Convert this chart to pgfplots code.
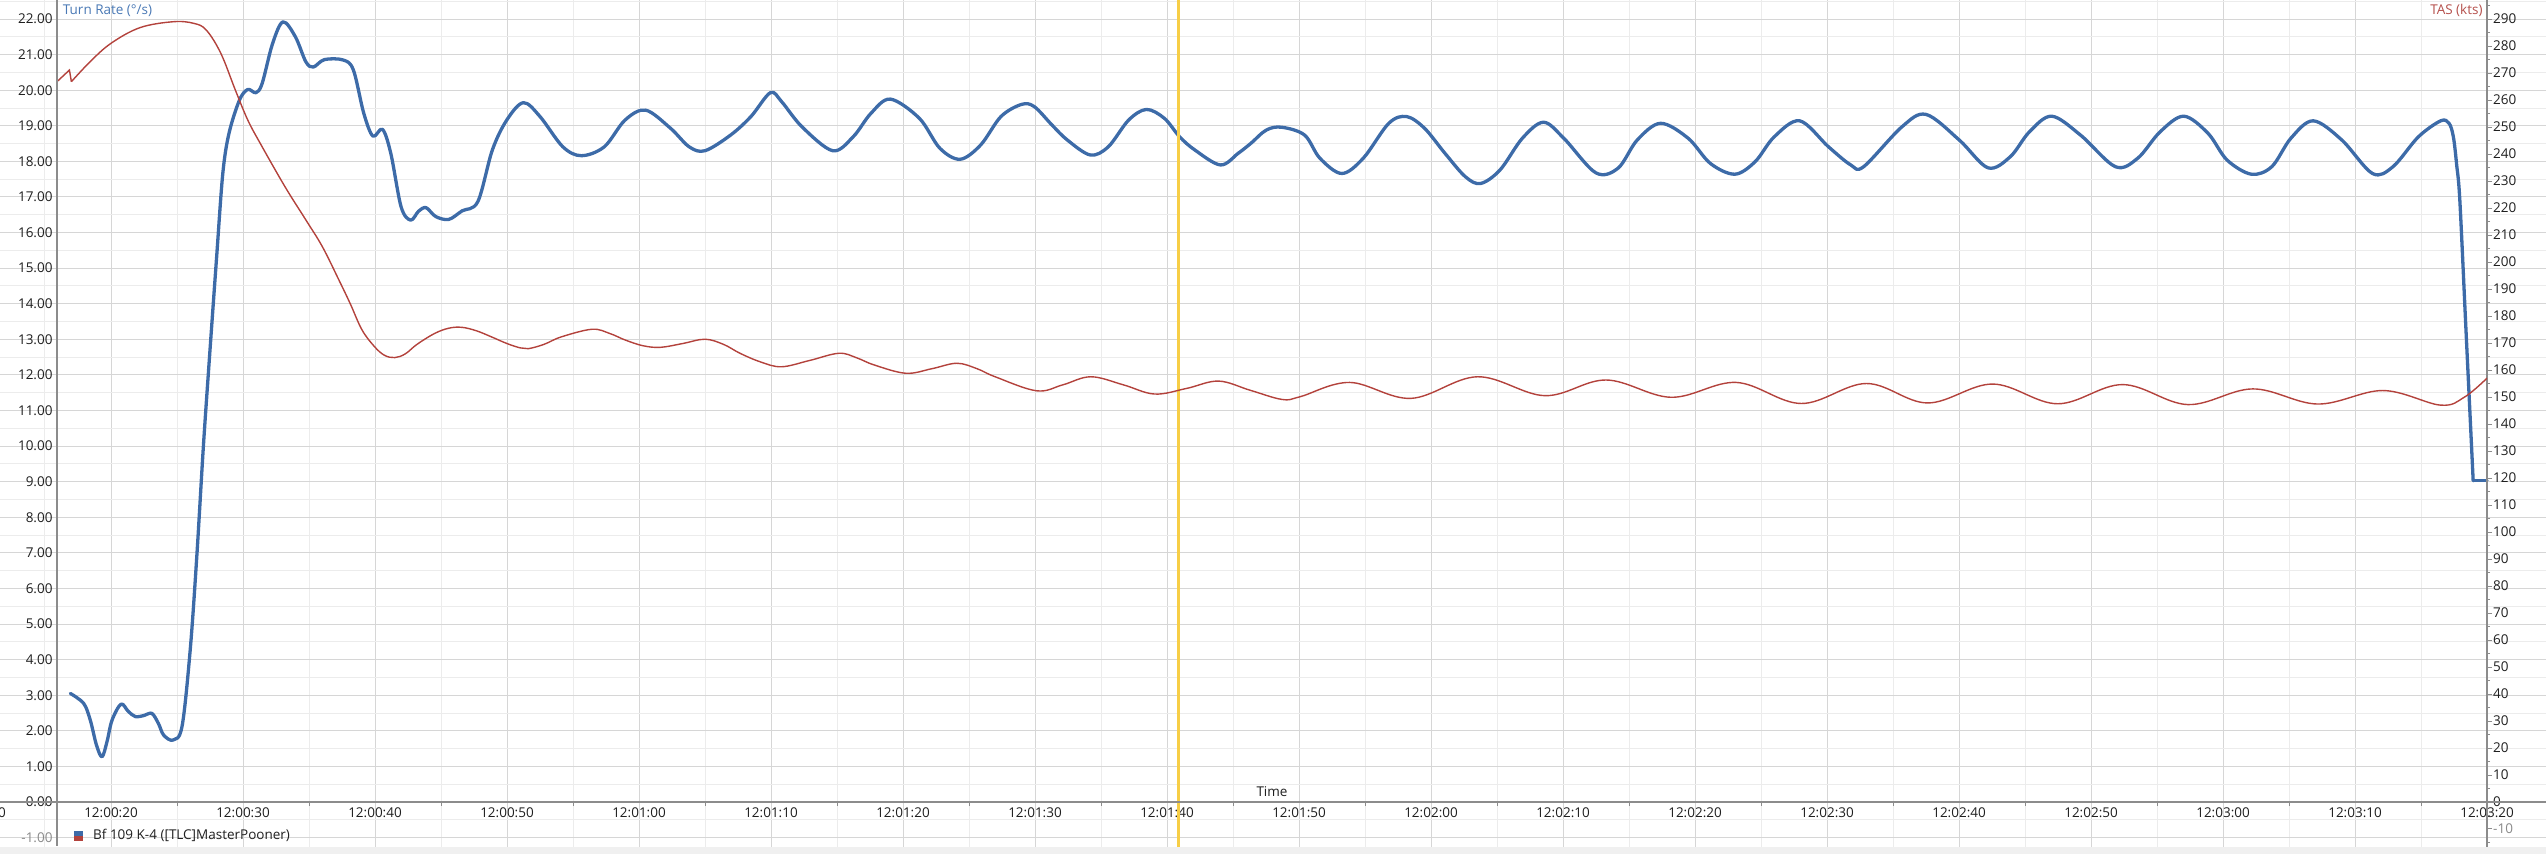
\documentclass[border=0pt]{standalone}
\usepackage{pgfplots}
\pgfplotsset{compat=1.18}
\usepackage{fontspec}
\setmainfont{Open Sans}
\newcommand{\f}{\fontsize{13.5pt}{16pt}\selectfont}
\definecolor{cblue}{HTML}{3D6BA8}
\definecolor{cred}{HTML}{B3423C}
\definecolor{cyel}{HTML}{F7CE46}
\definecolor{gmaj}{HTML}{D6D6D6}
\definecolor{gmin}{HTML}{ECECEC}
\definecolor{axg}{HTML}{8C8C8C}
\definecolor{tblue}{HTML}{4A79B5}
\definecolor{tred}{HTML}{B5504C}
\definecolor{txt}{HTML}{1F1F1F}
\definecolor{band}{HTML}{F0F0F0}
\definecolor{lgray}{HTML}{8A8A8A}

\begin{document}
\begin{tikzpicture}
% ---------------- left axis: Turn Rate ----------------
\begin{axis}[
  at={(0pt,0pt)}, anchor=south west,
  scale only axis, width=2546pt, height=854pt,
  xmin=11.591, xmax=204.47, ymin=-1.461, ymax=22.535,
  axis line style={draw=none},
  major tick length=0pt, minor tick length=0pt,
  tick pos=left,
  xtick={20,30,...,200},
  minor xtick={15,25,...,205},
  xticklabels={12:00:20,12:00:30,12:00:40,12:00:50,12:01:00,12:01:10,12:01:20,12:01:30,12:01:40,12:01:50,12:02:00,12:02:10,12:02:20,12:02:30,12:02:40,12:02:50,12:03:00,12:03:10,12:03:20},
  xticklabel style={font=\f, text=txt, anchor=north, inner sep=0pt, yshift=46pt},
  ytick={-1,0,...,22},
  minor ytick={-0.5,0.5,...,22.5},
  yticklabels={{\textcolor{lgray}{-1.00}},0.00,1.00,2.00,3.00,4.00,5.00,6.00,7.00,8.00,9.00,10.00,11.00,12.00,13.00,14.00,15.00,16.00,17.00,18.00,19.00,20.00,21.00,22.00},
  yticklabel style={font=\f, text=txt, anchor=east, inner sep=0pt, xshift=52.7pt},
  grid=both,
  major grid style={gmaj, line width=1pt},
  minor grid style={gmin, line width=1pt},
]
\addplot[cblue, line width=3.3pt, smooth, tension=0.55, line cap=round, line join=round] table {
t v
16.92 3.05
17.93 2.77
18.43 2.30
18.90 1.60
19.32 1.27
19.70 1.70
20.08 2.30
20.76 2.75
21.30 2.55
21.84 2.40
22.50 2.43
23.10 2.49
23.60 2.20
23.99 1.88
24.70 1.74
25.38 2.12
26.00 4.27
26.50 6.90
27.00 10.00
27.50 12.70
28.00 15.30
28.47 17.66
28.94 18.79
29.73 19.72
30.36 20.02
30.98 19.93
31.45 20.19
32.24 21.31
33.03 21.92
33.97 21.50
34.76 20.80
35.32 20.65
36.17 20.86
37.58 20.85
38.36 20.57
39.15 19.35
39.84 18.71
40.57 18.90
41.20 18.22
41.98 16.72
42.70 16.35
43.30 16.60
43.87 16.70
44.60 16.45
45.59 16.37
46.60 16.61
47.79 16.87
48.89 18.32
49.98 19.16
51.24 19.65
52.50 19.26
54.23 18.41
55.64 18.16
57.37 18.41
58.94 19.16
60.50 19.44
62.39 18.93
63.80 18.41
65.00 18.30
66.94 18.74
68.48 19.26
69.95 19.93
70.80 19.68
72.35 18.97
74.67 18.30
76.22 18.69
77.57 19.35
79.04 19.75
81.24 19.21
82.79 18.37
84.33 18.06
85.88 18.46
87.42 19.26
88.97 19.60
89.94 19.54
91.29 19.02
92.45 18.60
94.19 18.18
95.55 18.41
97.09 19.16
98.44 19.46
99.80 19.21
100.96 18.69
102.11 18.32
104.05 17.90
105.40 18.23
106.36 18.51
107.52 18.88
108.68 18.96
110.42 18.74
111.58 18.09
113.24 17.66
114.87 18.09
116.80 19.07
118.15 19.26
119.51 18.93
121.05 18.23
122.60 17.57
123.76 17.38
125.23 17.76
126.92 18.65
128.52 19.10
130.06 18.65
132.48 17.68
134.17 17.81
135.62 18.60
137.39 19.07
139.48 18.65
141.17 17.94
143.01 17.64
144.55 17.99
146.00 18.69
147.93 19.14
150.11 18.41
151.80 17.90
152.77 17.85
155.67 18.97
157.50 19.32
160.02 18.60
162.19 17.82
163.88 18.13
165.33 18.83
167.02 19.27
169.20 18.74
171.85 17.85
173.54 18.09
175.23 18.83
177.02 19.27
178.86 18.79
180.30 18.04
182.14 17.64
183.69 17.85
185.14 18.65
186.83 19.14
189.00 18.60
191.32 17.66
192.87 17.85
194.80 18.69
196.49 19.14
197.12 19.07
197.45 18.69
197.70 17.90
197.94 16.90
198.40 13.30
198.80 10.20
198.95 9.03
};
\addplot[cblue, line width=3.3pt, line cap=round] coordinates {(198.95,9.03) (200,9.03)};
\addplot[cyel, line width=2.4pt] coordinates {(100.86,-1.30) (100.86,22.535)};
\end{axis}
% ---------------- right axis: TAS ----------------
\begin{axis}[
  at={(0pt,0pt)}, anchor=south west,
  scale only axis, width=2487pt, height=854pt,
  xmin=11.591, xmax=200, ymin=-19.26, ymax=297.05,
  hide x axis, axis y line*=right,
  axis line style={axg, line width=1.2pt},
  ytick={-10,0,...,290},
  minor ytick={-15,-5,...,295},
  yticklabels={{\textcolor{lgray}{-10}},0,10,20,30,40,50,60,70,80,90,100,110,120,130,140,150,160,170,180,190,200,210,220,230,240,250,260,270,280,290},
  tick align=outside, major tick length=5pt, minor tick length=3pt,
  tick style={axg, line width=1pt},
  yticklabel style={font=\f, text=txt, anchor=west, inner sep=0pt, xshift=1pt},
]
\addplot[cred, line width=1.4pt, sharp plot] coordinates {(15.91,266.8) (16.85,271.1) (17.0,266.8)};
\addplot[cred, line width=1.4pt, smooth, tension=0.6] table {
t kts
17.00 266.8
18.42 274.2
20.00 281.0
22.19 286.8
24.71 289.0
26.27 288.4
27.22 285.9
28.32 277.3
29.42 263.7
30.36 252.6
31.30 244.0
33.18 227.9
34.76 215.6
36.01 205.7
37.27 193.3
38.13 184.5
39.00 175.0
39.90 169.0
40.70 165.5
41.50 164.6
42.30 166.0
43.18 169.5
44.50 173.5
45.60 175.5
46.60 175.8
47.70 174.5
48.81 172.3
50.00 169.8
51.00 168.2
51.61 167.9
52.80 169.5
54.13 172.3
56.45 175.1
57.80 173.5
58.96 171.1
60.30 169.0
61.61 168.4
63.30 169.8
65.00 171.4
66.40 169.5
67.65 166.2
69.20 163.0
70.79 161.2
72.90 163.5
75.14 166.2
76.50 164.5
77.80 161.9
80.21 158.8
82.20 160.5
84.08 162.5
85.60 160.5
86.98 157.5
90.12 152.3
92.10 154.5
94.23 157.5
96.70 154.5
99.06 151.1
101.50 153.2
103.90 155.9
106.30 152.5
108.72 149.1
110.08 150.1
113.84 155.4
118.48 149.5
123.52 157.5
128.63 150.5
133.27 156.3
138.20 149.9
143.12 155.4
148.05 147.6
152.98 155.0
157.62 147.8
162.55 154.8
167.47 147.5
172.40 154.6
177.33 147.2
182.26 153.0
187.18 147.4
192.11 152.4
196.46 147.0
198.30 150.0
200.00 157.0
};
\end{axis}
% ---------------- decorations (1pt = 1px, origin bottom left) ----------------
\fill[band] (0pt,0pt) rectangle (2546pt,7.3pt);
\draw[axg, line width=1.2pt] (57pt,8pt) -- (57pt,854pt);
\draw[axg, line width=1.2pt] (0pt,52pt) -- (2546pt,52pt);
\foreach \t in {15,25,...,195} {
  \pgfmathsetmacro\xx{111+(\t-20)*13.2}
  \draw[axg, line width=1pt] (\xx pt,52pt) -- (\xx pt,47.5pt);
}
\node[font=\f, text=txt, anchor=north, inner sep=0pt] at (-21pt,46pt) {12:00:10};
\node[font=\f, text=tblue, anchor=base west, inner sep=0pt] at (62.7pt,839pt) {Turn Rate (°/s)};
\node[font=\f, text=tred, anchor=base east, inner sep=0pt] at (2482.7pt,839pt) {TAS (kts)};
\node[font=\f, text=txt, anchor=base, inner sep=0pt] at (1272pt,57pt) {Time};
\fill[cblue] (74pt,18pt) rectangle (83.3pt,23pt);
\fill[cred] (74pt,13pt) rectangle (83.3pt,18pt);
\node[font=\f, text=txt, anchor=base west, inner sep=0pt] at (93pt,14pt) {Bf 109 K-4 ([TLC]MasterPooner)};
\pgfresetboundingbox
\useasboundingbox (0pt,0pt) rectangle (2546pt,854pt);
\end{tikzpicture}
\end{document}
